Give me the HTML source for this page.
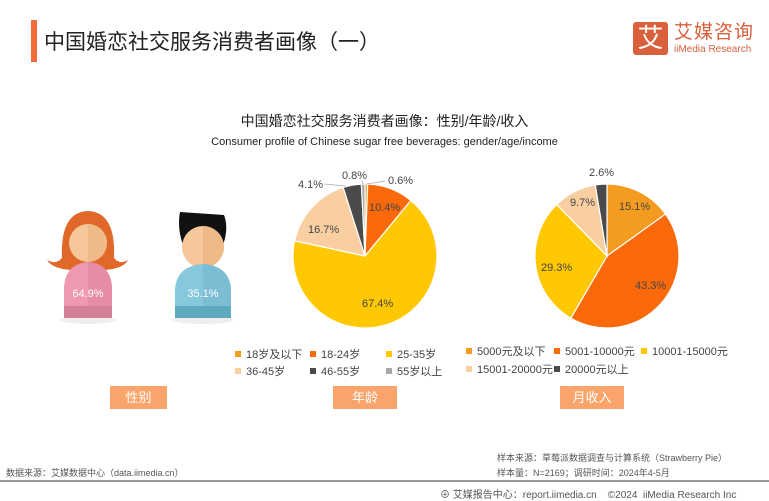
<!DOCTYPE html>
<html><head><meta charset="utf-8"><style>
body{margin:0;width:769px;height:500px;background:#fff;font-family:"Liberation Sans","Noto Sans CJK SC",sans-serif;overflow:hidden;position:relative}
.a{position:absolute;white-space:nowrap}
.btn{position:absolute;background:#f9a46b;color:#fff;font-size:13px;text-align:center;line-height:23px;height:23px}
.lg{position:absolute;font-size:11px;color:#444;white-space:nowrap}
.lg i{display:inline-block;width:6px;height:6px;margin-right:5px;vertical-align:1px}
</style></head><body>
<div class="a" style="left:31px;top:20px;width:6px;height:42px;background:#f26b3a"></div>
<div class="a" style="left:44px;top:26px;font-size:21px;color:#222">中国婚恋社交服务消费者画像（一）</div>
<div class="a" style="left:633px;top:22px;width:35px;height:33px;background:#d9603b;border-radius:3px;color:#fff;font-size:26px;line-height:33px;text-align:center">艾</div>
<div class="a" style="left:674px;top:17px;font-size:19px;color:#d9603b;letter-spacing:1px">艾媒咨询</div>
<div class="a" style="left:674px;top:44px;font-size:10px;color:#d9603b">iiMedia Research</div>
<div class="a" style="left:0;width:769px;top:111px;text-align:center;font-size:14px;color:#222">中国婚恋社交服务消费者画像：性别/年龄/收入</div>
<div class="a" style="left:0;width:769px;top:136px;text-align:center;font-size:11px;color:#222">Consumer profile of Chinese sugar free beverages: gender/age/income</div>
<svg class="a" style="left:0;top:0" width="769" height="500">
<ellipse cx="88" cy="320" rx="28" ry="4" fill="#eee"/>
<path d="M62 258 Q60 212 88 211 Q116 212 114 258 Q120 265 128 260 Q122 272 88 270 Q54 272 47 260 Q56 265 62 258Z" fill="#e0692a"/>
<circle cx="88" cy="243" r="19" fill="#f6c79a"/>
<path d="M88 224 A19 19 0 0 1 88 262Z" fill="#eebb88"/>
<path d="M64 318 L64 290 Q64 264 88 262 Q112 264 112 290 L112 318Z" fill="#ef98b2"/>
<path d="M88 262 Q112 264 112 290 L112 318 L88 318Z" fill="#e58ca7"/>
<rect x="64" y="306" width="48" height="12" fill="#d57f99"/>
<ellipse cx="203" cy="320" rx="30" ry="4" fill="#eee"/>
<path d="M180 212 L224 215 Q229 228 223 245 L183 245 Q177 228 180 212Z" fill="#111"/>
<circle cx="203" cy="247" r="21" fill="#f6c79a"/>
<path d="M203 226 A21 21 0 0 1 203 268Z" fill="#eebb88"/>
<path d="M175 318 L175 292 Q175 266 203 264 Q231 266 231 292 L231 318Z" fill="#86c8dc"/>
<path d="M203 264 Q231 266 231 292 L231 318 L203 318Z" fill="#7bbdd2"/>
<rect x="175" y="306" width="56" height="12" fill="#5ea9c0"/>
<text x="88" y="297" font-size="11" fill="#fff" text-anchor="middle" font-family="Liberation Sans">64.9%</text>
<text x="203" y="297" font-size="11" fill="#fff" text-anchor="middle" font-family="Liberation Sans">35.1%</text>
<g stroke="#fff" stroke-width="1.2">
<path d="M365 256 L365 184 A72 72 0 0 1 367.71 184.05Z" fill="#f39c1f"/>
<path d="M365 256 L367.71 184.05 A72 72 0 0 1 410.89 200.52Z" fill="#fa6a0a"/>
<path d="M365 256 L410.89 200.52 A72 72 0 1 1 294.63 240.73Z" fill="#ffc800"/>
<path d="M365 256 L294.63 240.73 A72 72 0 0 1 343.18 187.38Z" fill="#f9cfa2"/>
<path d="M365 256 L343.18 187.38 A72 72 0 0 1 361.38 184.09Z" fill="#4a4a4a"/>
<path d="M365 256 L361.38 184.09 A72 72 0 0 1 365 184Z" fill="#a8a8a8"/>
</g>
<g font-family="Liberation Sans" font-size="11" fill="#444">
<text x="369" y="211">10.4%</text><text x="362" y="307">67.4%</text><text x="308" y="233">16.7%</text>
<text x="298" y="188">4.1%</text><text x="342" y="179">0.8%</text><text x="388" y="184">0.6%</text>
</g>
<g stroke="#aaa" stroke-width="0.8" fill="none"><path d="M324 184 L346 186"/><path d="M362 181 L363 184"/><path d="M385 181 L367 184"/></g>
<g stroke="#fff" stroke-width="1.2">
<path d="M607 256 L607 184 A72 72 0 0 1 665.52 214.06Z" fill="#f39c1f"/>
<path d="M607 256 L665.52 214.06 A72 72 0 0 1 570.74 318.2Z" fill="#fa6a0a"/>
<path d="M607 256 L570.74 318.2 A72 72 0 0 1 556.74 204.45Z" fill="#ffc800"/>
<path d="M607 256 L556.74 204.45 A72 72 0 0 1 595.29 184.96Z" fill="#f9cfa2"/>
<path d="M607 256 L595.29 184.96 A72 72 0 0 1 607 184Z" fill="#4a4a4a"/>
</g>
<g font-family="Liberation Sans" font-size="11" fill="#444">
<text x="619" y="210">15.1%</text><text x="635" y="289">43.3%</text><text x="541" y="271">29.3%</text>
<text x="570" y="206">9.7%</text><text x="589" y="176">2.6%</text>
</g>
<line x1="0" y1="481" x2="769" y2="481" stroke="#999" stroke-width="2"/>
</svg>
<div class="lg" style="left:235px;top:346px"><i style="background:#f39c1f"></i>18岁及以下</div>
<div class="lg" style="left:310px;top:346px"><i style="background:#fa6a0a"></i>18-24岁</div>
<div class="lg" style="left:386px;top:346px"><i style="background:#ffc800"></i>25-35岁</div>
<div class="lg" style="left:235px;top:363px"><i style="background:#f9cfa2"></i>36-45岁</div>
<div class="lg" style="left:310px;top:363px"><i style="background:#4a4a4a"></i>46-55岁</div>
<div class="lg" style="left:386px;top:363px"><i style="background:#a8a8a8"></i>55岁以上</div>
<div class="lg" style="left:466px;top:343px"><i style="background:#f39c1f"></i>5000元及以下</div>
<div class="lg" style="left:554px;top:343px"><i style="background:#fa6a0a"></i>5001-10000元</div>
<div class="lg" style="left:641px;top:343px"><i style="background:#ffc800"></i>10001-15000元</div>
<div class="lg" style="left:466px;top:361px"><i style="background:#f9cfa2"></i>15001-20000元</div>
<div class="lg" style="left:554px;top:361px"><i style="background:#4a4a4a"></i>20000元以上</div>
<div class="btn" style="left:110px;top:386px;width:57px">性别</div>
<div class="btn" style="left:333px;top:386px;width:64px">年龄</div>
<div class="btn" style="left:560px;top:386px;width:64px">月收入</div>
<div class="a" style="left:6px;top:466px;font-size:9px;color:#555">数据来源：艾媒数据中心（data.iimedia.cn）</div>
<div class="a" style="left:497px;top:451px;font-size:9px;color:#555">样本来源：草莓派数据调查与计算系统（Strawberry Pie）</div>
<div class="a" style="left:497px;top:466px;font-size:9px;color:#555">样本量：N=2169；调研时间：2024年4-5月</div>
<div class="a" style="left:440px;top:486px;font-size:10px;color:#555">⊕ 艾媒报告中心：report.iimedia.cn &nbsp;&nbsp; ©2024 &nbsp;iiMedia Research Inc</div>
</body></html>
